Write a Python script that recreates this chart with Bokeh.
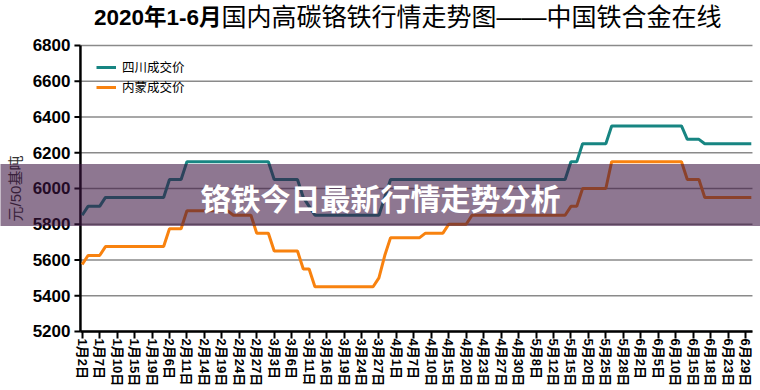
import math
from bokeh.plotting import figure
from bokeh.models import Label, Legend, LegendItem, FixedTicker, Range1d, ColumnDataSource
from bokeh.core.properties import value
from bokeh.embed import file_html
from bokeh.resources import INLINE

# ---- data ----
tick_labels = ["1月2日", "1月7日", "1月10日", "1月15日", "1月19日",
               "2月6日", "2月11日", "2月14日", "2月19日", "2月24日", "2月27日",
               "3月3日", "3月6日", "3月11日", "3月16日", "3月19日", "3月24日", "3月27日",
               "4月1日", "4月7日", "4月10日", "4月15日", "4月20日", "4月23日", "4月27日", "4月30日",
               "5月8日", "5月12日", "5月15日", "5月20日", "5月25日", "5月28日",
               "6月2日", "6月5日", "6月10日", "6月15日", "6月18日", "6月23日", "6月29日"]
label_every = 3

sichuan = [5850, 5900, 5900, 5900,
           5950, 5950, 5950, 5950, 5950, 5950, 5950, 5950, 5950, 5950, 5950,
           6050, 6050, 6050,
           6150, 6150, 6150, 6150, 6150, 6150, 6150, 6150, 6150, 6150, 6150, 6150, 6150, 6150, 6150,
           6050, 6050, 6050, 6050, 6050,
           5950, 5900,
           5850, 5850, 5850, 5850, 5850, 5850, 5850, 5850, 5850, 5850, 5850, 5850,
           5950,
           6050, 6050, 6050, 6050, 6050, 6050, 6050, 6050, 6050, 6050, 6050, 6050, 6050, 6050, 6050, 6050,
           6050, 6050, 6050, 6050, 6050, 6050, 6050, 6050, 6050, 6050, 6050, 6050, 6050, 6050, 6050,
           6150, 6150,
           6250, 6250, 6250, 6250, 6250,
           6350, 6350, 6350, 6350, 6350, 6350, 6350, 6350, 6350, 6350, 6350, 6350, 6350,
           6275, 6275, 6275,
           6250, 6250, 6250, 6250, 6250, 6250, 6250, 6250, 6250]

neimeng = [5575, 5625, 5625, 5625,
           5675, 5675, 5675, 5675, 5675, 5675, 5675, 5675, 5675, 5675, 5675,
           5775, 5775, 5775,
           5875, 5875, 5875, 5875, 5875, 5875, 5875, 5875,
           5850, 5850, 5850, 5850,
           5750, 5750, 5750,
           5650, 5650, 5650, 5650, 5650,
           5550, 5550,
           5450, 5450, 5450, 5450, 5450, 5450, 5450, 5450, 5450, 5450, 5450,
           5500, 5625,
           5725, 5725, 5725, 5725, 5725, 5725,
           5750, 5750, 5750, 5750,
           5800, 5800, 5800, 5800,
           5850, 5850, 5850, 5850, 5850, 5850, 5850, 5850, 5850, 5850, 5850, 5850, 5850, 5850, 5850, 5850, 5850,
           5900, 5900,
           6000, 6000, 6000, 6000, 6000,
           6150, 6150, 6150, 6150, 6150, 6150, 6150, 6150, 6150, 6150, 6150, 6150, 6150,
           6050, 6050, 6050,
           5950, 5950, 5950, 5950, 5950, 5950, 5950, 5950, 5950]

y_ticks = [5200, 5400, 5600, 5800, 6000, 6200, 6400, 6600, 6800]
series_names = ["四川成交价", "内蒙成交价"]
title_bold = "2020年1-6月"
title_rest = "国内高碳铬铁行情走势图——中国铁合金在线"
banner_text = "铬铁今日最新行情走势分析"
y_label = "元/50基吨"

n = len(sichuan)
idx = list(range(n))
src = ColumnDataSource(dict(i=idx, sc=sichuan, nm=neimeng))

# plot-area extent in data units (category index)
x_lo, x_hi = -0.3, n - 0.8

# frame covers the canvas so the overlay banner can span the full width
p = figure(width=760, height=390, output_backend="svg", toolbar_location=None,
           x_range=Range1d(-14.04, 116.58), y_range=Range1d(5160.8, 7051.7),
           y_axis_location=None,
           min_border_left=0, min_border_right=0, min_border_top=0, min_border_bottom=52)
p.outline_line_color = None
p.background_fill_color = "white"
p.border_fill_color = "white"
p.xgrid.visible = False
p.ygrid.visible = False

CJK = "Liberation Sans, Noto Sans CJK SC"

# horizontal grid lines (drawn from the tick values)
grid_src = ColumnDataSource(dict(y=y_ticks, x0=[x_lo] * len(y_ticks), x1=[x_hi] * len(y_ticks),
                                 lab=[str(t) for t in y_ticks]))
p.segment(x0="x0", y0="y", x1="x1", y1="y", source=grid_src, line_color="#8a8a8a", line_width=1.3)

# axis lines
p.segment(x0=[x_lo, x_lo], y0=[y_ticks[0], y_ticks[0]], x1=[x_lo, x_hi], y1=[y_ticks[-1], y_ticks[0]],
          line_color="black", line_width=2.5)
# y ticks, labels and title
p.ray(x="x0", y="y", source=grid_src, length=6, length_units="screen", angle=math.pi,
      line_color="black", line_width=2)
p.text(x="x0", y="y", text="lab", source=grid_src, x_offset=-10, text_align="right",
       text_baseline="middle", text_font=value("Liberation Sans"), text_font_style="bold",
       text_font_size="17px", text_color="black")
p.text(x=[x_lo], y=[(y_ticks[0] + y_ticks[-1]) / 2], text=[y_label], x_offset=-65, angle=math.pi / 2,
       text_align="center", text_baseline="middle", text_font=value(CJK),
       text_font_size="15px", text_color="#333333")

# x axis (its line is drawn at 5200 above)
xax = p.xaxis[0]
tick_pos = [k * label_every for k in range(len(tick_labels))]
xax.ticker = FixedTicker(ticks=tick_pos)
xax.bounds = (x_lo, x_hi)
xax.major_label_overrides = {t: lab for t, lab in zip(tick_pos, tick_labels)}
xax.major_label_orientation = -math.pi / 2
xax.axis_line_color = None
xax.major_tick_out = 0
xax.major_tick_in = 7
xax.major_tick_line_width = 2
xax.major_tick_line_color = "black"
xax.minor_tick_line_color = None
xax.major_label_standoff = 0
xax.major_label_text_font = CJK
xax.major_label_text_font_style = "bold"
xax.major_label_text_font_size = "13px"
xax.major_label_text_color = "black"

r1 = p.line("i", "sc", source=src, line_color="#178582", line_width=3)
r2 = p.line("i", "nm", source=src, line_color="#F8820F", line_width=3)

legend = Legend(items=[LegendItem(label=series_names[0], renderers=[r1]),
                       LegendItem(label=series_names[1], renderers=[r2])],
                location=(96, 242), border_line_color=None, background_fill_alpha=0,
                label_text_font=CJK, label_text_font_size="12.5px", label_text_color="black",
                glyph_width=20, glyph_height=14, label_height=14, spacing=1,
                margin=0, padding=6, label_standoff=6)
p.add_layout(legend)

# title (two parts)
p.add_layout(Label(x=23.94, y=6956.6, text=title_bold, text_align="right", text_baseline="middle",
                   text_font=CJK, text_font_style="bold", text_font_size="22.5px",
                   text_color="black"))
p.add_layout(Label(x=23.94, y=6956.6, text=title_rest, text_align="left", text_baseline="middle",
                   text_font=CJK, text_font_style="normal", text_font_size="25px",
                   text_color="black"))

# banner overlay
banner = Label(x=51.27, y=5963.6, text=banner_text, text_align="center", text_baseline="middle",
               text_font="Noto Sans CJK SC", text_font_style="bold", text_font_size="30px",
               text_color="white",
               background_fill_color="#3C1441", background_fill_alpha=0.58,
               padding=dict(left=240, right=240, top=11, bottom=7),
               level="overlay")
p.add_layout(banner)

open("out.html", "w").write(file_html(p, INLINE))
